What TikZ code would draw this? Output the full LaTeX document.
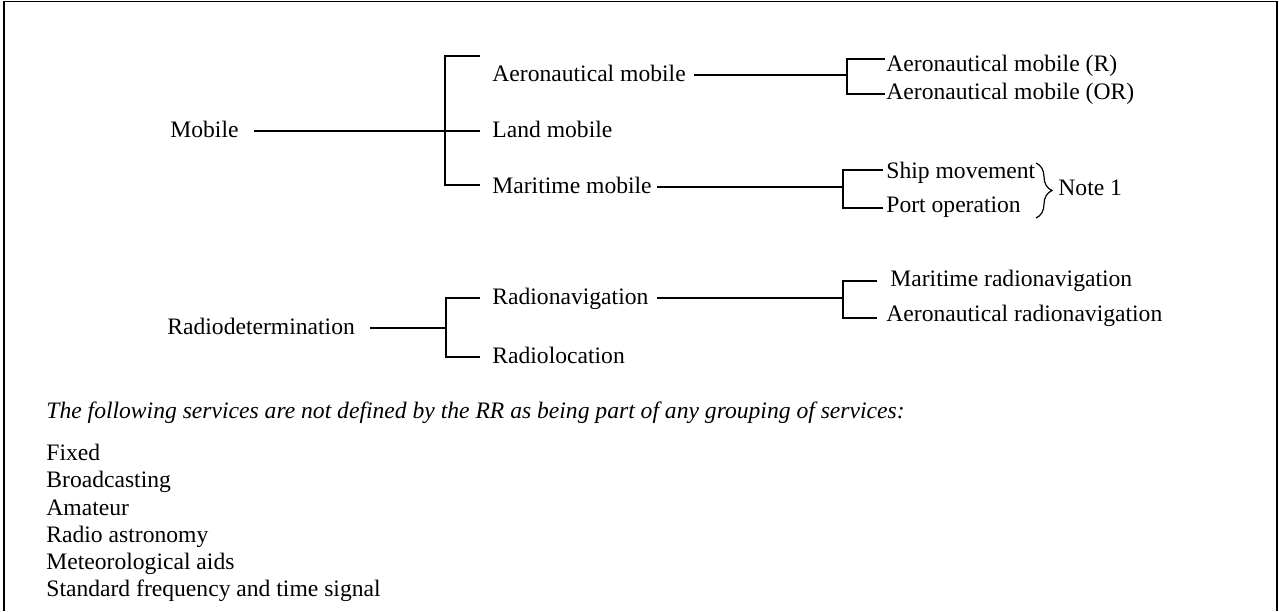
\documentclass[tikz,border=0pt]{standalone}
\usepackage{fontspec}
\setmainfont{Liberation Serif}
\usepackage{tikz}
\usetikzlibrary{calc, decorations.pathreplacing}

\newcommand{\svcfont}{\fontsize{11.8}{13.6}\selectfont}

\tikzset{
  svc/.style={inner sep=0pt, anchor=west, text height=0.66em, text depth=0pt},
  trunk/.style={line width=1pt},
  twig/.style={line width=0.6pt},
  notebrace/.style={line width=0.6pt, decorate, decoration={brace, amplitude=8pt}},
}

\begin{document}
\begin{tikzpicture}[x=0.5pt, y=-0.5pt, font=\svcfont]
  \useasboundingbox (0,0) rectangle (1279,611);
  % frame, open at the bottom
  \draw[line width=0.75pt] (4,611) -- (4,1.5) -- (1277,1.5) -- (1277,611);

  % Mobile group
  \node[svc] (mobile) at (170,131) {Mobile};
  \node[svc] (aero) at (492,75) {Aeronautical mobile};
  \node[svc] (land) at (492,131) {Land mobile};
  \node[svc] (mari) at (492,187) {Maritime mobile};
  \node[svc] (aeroR) at (886,65) {Aeronautical mobile (R)};
  \node[svc] (aeroOR) at (886,93) {Aeronautical mobile (OR)};
  \node[svc] (ship) at (886,172) {Ship movement};
  \node[svc] (port) at (886,206) {Port operation};
  \node[svc] (note) at (1058,189) {Note 1};

  \coordinate (mobJ) at (445,131);
  \coordinate (aeroJ) at (847,75);
  \coordinate (mariJ) at (843,187);
  \coordinate (braceTop) at (1036,163);
  \coordinate (braceBot) at (1036,218);

  \draw[trunk] ($(mobile.east)+(15,0)$) -- (mobJ);
  \draw[twig] ($(aero.west)+(-12,-19)$) -| (mobJ) |- ($(mari.west)+(-12,-2)$);
  \draw[twig] (mobJ) -- ($(land.west)+(-12,0)$);

  \draw[trunk] ($(aero.east)+(8,0)$) -- (aeroJ);
  \draw[twig] ($(aeroR.west)+(-1,-6)$) -| (aeroJ) |- ($(aeroOR.west)+(-1,1)$);

  \draw[trunk] ($(mari.east)+(5,0)$) -- (mariJ);
  \draw[twig] ($(ship.west)+(-3,-2)$) -| (mariJ) |- ($(port.west)+(-3,2)$);
  \draw[notebrace] (braceTop) -- (braceBot);

  % Radiodetermination group
  \node[svc] (rdet) at (167,328) {Radiodetermination};
  \node[svc] (rnav) at (492,298) {Radionavigation};
  \node[svc] (rloc) at (492,357) {Radiolocation};
  \node[svc] (marnav) at (890,280) {Maritime radionavigation};
  \node[svc] (aeronav) at (886,315) {Aeronautical radionavigation};

  \coordinate (rdetJ) at (446,328);
  \coordinate (rnavJ) at (843,298);

  \draw[trunk] ($(rdet.east)+(15,0)$) -- (rdetJ);
  \draw[twig] ($(rnav.west)+(-12,0)$) -| (rdetJ) |- ($(rloc.west)+(-12,0)$);

  \draw[trunk] ($(rnav.east)+(8,0)$) -- (rnavJ);
  \draw[twig] ($(marnav.west)+(-13,1)$) -| (rnavJ) |- ($(aeronav.west)+(-9,3)$);

  % services outside any grouping
  \node[svc, font=\svcfont\itshape] (intro) at (46,412) {The following services are not defined by the RR as being part of any grouping of services:};
  \node[anchor=north west, inner sep=0pt, align=left] (others) at (46,444) {Fixed\\Broadcasting\\Amateur\\Radio astronomy\\Meteorological aids\\Standard frequency and time signal};
\end{tikzpicture}
\end{document}
